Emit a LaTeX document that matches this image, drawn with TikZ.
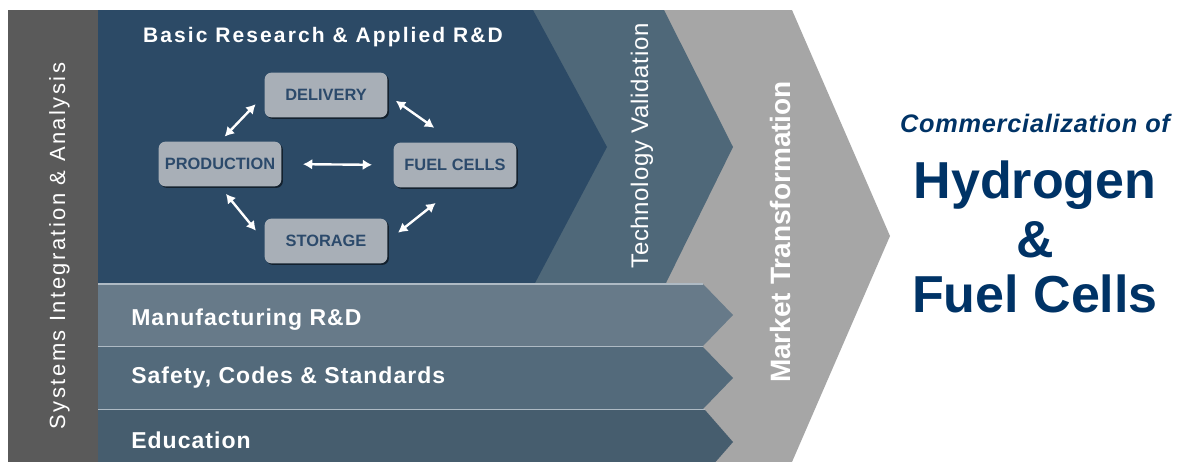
\documentclass[tikz,border=0pt]{standalone}
\usepackage{fontspec}
\setmainfont{Liberation Sans}
\newfontfamily\wideface[LetterSpace=10]{Liberation Sans}
\newfontfamily\sideface[LetterSpace=11]{Liberation Sans}
\newfontfamily\bandface[LetterSpace=4.5]{Liberation Sans}
\newfontfamily\techface[LetterSpace=3]{Liberation Sans}
\newfontfamily\headface[LetterSpace=3]{Liberation Sans}
\usepackage{tikz}
\usetikzlibrary{arrows.meta,shadows}

\definecolor{sysgray}{HTML}{5A5A5A}
\definecolor{rdblue}{HTML}{2C4A66}
\definecolor{techslate}{HTML}{4F6879}
\definecolor{marketgray}{HTML}{A6A6A6}
\definecolor{bandone}{HTML}{677A89}
\definecolor{bandtwo}{HTML}{536A7B}
\definecolor{bandthree}{HTML}{465D6E}
\definecolor{boxgray}{HTML}{A8AFB7}
\definecolor{boxtext}{HTML}{2C4A6B}
\definecolor{sepline}{HTML}{AEBAC4}
\definecolor{navy}{HTML}{003366}

\tikzset{
    block/.style={rounded corners=5pt, fill=boxgray, text=boxtext,
        minimum width=92pt, minimum height=33.5pt, inner sep=0pt,
        font=\bfseries\fontsize{12.3}{14}\selectfont,
        drop shadow={shadow xshift=1.2pt, shadow yshift=-1.2pt, opacity=.55, fill=black}},
    link/.style={white, line width=1.8pt, >={Latex[length=7pt,width=8pt]}, <->},
    bandlabel/.style={anchor=base west, inner sep=0pt, text=white,
        font=\bandface\bfseries\fontsize{17.25}{20}\selectfont},
    sidelabel/.style={anchor=base, rotate=90, inner sep=0pt, text=white},
    goal/.style={anchor=base, inner sep=0pt, text=navy},
    divider/.style={sepline, line width=1.3pt}
}

\begin{document}
\begin{tikzpicture}[x=0.75pt, y=-0.75pt]
\fill[white] (0,0) rectangle (1178,461);
\clip (0,0) rectangle (1178,461);

% stages
\fill[marketgray] (98,10) -- (792,10) -- (890,236) -- (792,462) -- (98,462) -- cycle;
\fill[techslate] (98,10) -- (664,10) -- (733,147) -- (666,283) -- (98,283) -- cycle;
\fill[rdblue] (98,10) -- (533,10) -- (607,147) -- (535,283) -- (98,283) -- cycle;
\fill[bandone] (98,284) -- (703,284) -- (733,315) -- (703,346) -- (98,346) -- cycle;
\fill[bandtwo] (98,347) -- (703,347) -- (733,378) -- (703,409) -- (98,409) -- cycle;
\fill[bandthree] (98,410) -- (705,410) -- (733,442) -- (705,474) -- (98,474) -- cycle;
\draw[divider] (98,284) -- (703,284);
\draw[divider] (98,346.5) -- (703,346.5);
\draw[divider] (98,409.5) -- (705,409.5);
\fill[sysgray] (8,10) rectangle (98,470);

% labels
\node[anchor=base, inner sep=0pt, text=white, font=\wideface\bfseries\fontsize{15.75}{18}\selectfont] (basic) at (323,42) {Basic Research \& Applied R\&D};
\node[sidelabel, font=\sideface\fontsize{16.5}{19}\selectfont] (system) at (65,246) {Systems Integration \& Analysis};
\node[sidelabel, font=\techface\fontsize{18}{21}\selectfont] (tech) at (648,146) {Technology Validation};
\node[sidelabel, font=\bfseries\fontsize{21}{24}\selectfont] (market) at (790,232) {Market Transformation};
\node[bandlabel] (manuf) at (131,325) {Manufacturing R\&D};
\node[bandlabel] (safety) at (131,383) {Safety, Codes \& Standards};
\node[bandlabel] (educ) at (131,448) {Education};

% pathways
\node[block] (deliv) at (326,95) {DELIVERY};
\node[block] (prod) at (220,164) {PRODUCTION};
\node[block] (stor) at (326,241) {STORAGE};
\node[block] (fuel) at (455,165) {FUEL CELLS};

\draw[link, shorten <=5pt, shorten >=9.5pt] (prod.north) -- (deliv.west);
\draw[link, shorten <=7.5pt, shorten >=19pt] (deliv.east) -- (fuel.north);
\draw[link, shorten <=16pt, shorten >=16pt] (prod.east) -- (fuel.west);
\draw[link, shorten <=7pt, shorten >=10pt] (prod.south) -- (stor.west);
\draw[link, shorten <=10pt, shorten >=18.5pt] (stor.east) -- (fuel.south);

% goal
\node[goal, font=\headface\bfseries\itshape\fontsize{19}{22}\selectfont] (comm) at (1035,132) {Commercialization of};
\node[goal, font=\bfseries\fontsize{39}{44}\selectfont] (hydro) at (1035,198) {Hydrogen};
\node[goal, font=\bfseries\fontsize{39}{44}\selectfont] (amp) at (1035,257) {\&};
\node[goal, font=\bfseries\fontsize{39}{44}\selectfont] (cells) at (1035,312) {Fuel Cells};
\end{tikzpicture}
\end{document}
